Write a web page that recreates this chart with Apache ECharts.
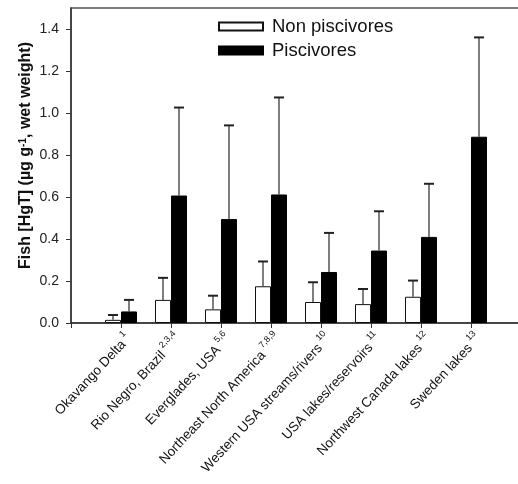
<!DOCTYPE html>
<html>
<head>
<meta charset="utf-8">
<script src="https://cdn.jsdelivr.net/npm/echarts@6/dist/echarts.min.js"></script>
<style>html,body{margin:0;padding:0;background:#fff;}#c{width:518px;height:484px;}</style>
</head>
<body>
<div id="c"></div>
<script>
// ---- data ----
var categories = ['Okavango Delta', 'Rio Negro, Brazil', 'Everglades, USA', 'Northeast North America',
  'Western USA streams/rivers', 'USA lakes/reservoirs', 'Northwest Canada lakes', 'Sweden lakes'];
var refNotes = ['1', '2,3,4', '5,6', '7,8,9', '10', '11', '12', '13'];
var nonPiscivores = [0.015, 0.11, 0.065, 0.175, 0.10, 0.09, 0.125, null];
var nonPiscivoresUpper = [0.038, 0.215, 0.13, 0.293, 0.194, 0.162, 0.202, null];
var piscivores = [0.055, 0.607, 0.495, 0.612, 0.243, 0.345, 0.41, 0.887];
var piscivoresUpper = [0.11, 1.026, 0.941, 1.074, 0.429, 0.532, 0.663, 1.36];
var yTicks = [0, 0.2, 0.4, 0.6, 0.8, 1.0, 1.2, 1.4];

// ---- build ----
var BAR_W = 16;
var axisCats = [''].concat(categories.map(function (c, i) { return '{a|' + c + '}{s|' + refNotes[i] + '}'; })).concat(['']);
function pad(arr) { return [null].concat(arr).concat([null]); }
function errData(vals, ups) {
  var out = [];
  vals.forEach(function (v, i) { if (v != null && ups[i] != null) out.push([i + 1, v, ups[i]]); });
  return out;
}
function errSeries(vals, ups, side) {
  return {
    type: 'custom',
    z: 5,
    silent: true,
    data: errData(vals, ups),
    encode: { x: 0, y: [1, 2] },
    renderItem: function (params, api) {
      var base = api.coord([api.value(0), api.value(1)]);
      var top = api.coord([api.value(0), api.value(2)]);
      var x = base[0] + side * BAR_W / 2;
      return {
        type: 'group',
        children: [
          { type: 'line', shape: { x1: x, y1: base[1], x2: x, y2: top[1] }, style: { stroke: '#3a3a3a', lineWidth: 1.3 } },
          { type: 'line', shape: { x1: x - 5, y1: top[1], x2: x + 5, y2: top[1] }, style: { stroke: '#222', lineWidth: 2 } }
        ]
      };
    }
  };
}

var chart = echarts.init(document.getElementById('c'), null, { renderer: 'canvas' });
chart.setOption({
  animation: false,
  textStyle: { fontFamily: 'Liberation Sans, Arial, sans-serif' },
  grid: { left: 71, top: 8, width: 450, bottom: 161, outerBoundsMode: 'none', containLabel: false,
    show: true, borderColor: '#555', borderWidth: 1.5, backgroundColor: 'transparent' },
  legend: {
    orient: 'vertical', left: 218, top: 17, padding: 0, itemWidth: 44, itemHeight: 8, itemGap: 5, icon: 'rect',
    textStyle: { fontSize: 18.5, color: '#111', padding: [0, 0, 0, 4], lineHeight: 18 },
    data: ['Non piscivores', 'Piscivores']
  },
  xAxis: {
    type: 'category',
    data: axisCats,
    boundaryGap: false,
    axisLine: { lineStyle: { color: '#333', width: 1.5 } },
    axisTick: { show: true, interval: 0, length: 5, lineStyle: { color: '#333' } },
    axisLabel: {
      interval: 0, rotate: 47, margin: 6, color: '#111', align: 'right', verticalAlign: 'top',
      rich: {
        a: { fontSize: 13.5, color: '#111', lineHeight: 18, verticalAlign: 'bottom' },
        s: { fontSize: 9, color: '#111', lineHeight: 9, padding: [0, 0, 0, 3], verticalAlign: 'top' }
      }
    },
    splitLine: { show: false }
  },
  yAxis: {
    type: 'value', min: 0, max: 1.5, interval: 0.2,
    name: '{m|Fish [HgT] (µg g}{sup|-1}{m|, wet weight)}',
    nameLocation: 'middle', nameGap: 37, nameRotate: 90, nameMoveOverlap: false,
    nameTextStyle: { padding: [0, 0, 0, 20],
      rich: {
        m: { fontSize: 16, fontWeight: 'bold', color: '#111', lineHeight: 16, padding: [5, 0, 0, 0], verticalAlign: 'bottom' },
        sup: { fontSize: 10, fontWeight: 'bold', color: '#111', lineHeight: 10, verticalAlign: 'top' }
      } },
    axisLine: { show: true, lineStyle: { color: '#333', width: 1.5 } },
    axisTick: { show: true, length: 5, lineStyle: { color: '#333' } },
    axisLabel: {
      fontSize: 14, color: '#222', margin: 12, showMaxLabel: false,
      formatter: function (v) { return yTicks.some(function (t) { return Math.abs(t - v) < 1e-9; }) ? v.toFixed(1) : ''; }
    },
    splitLine: { show: false }
  },
  series: [
    { name: 'Non piscivores', type: 'bar', data: pad(nonPiscivores), barWidth: BAR_W, barGap: '0%',
      itemStyle: { color: '#fff', borderColor: '#111', borderWidth: 1 } },
    { name: 'Piscivores', type: 'bar', data: pad(piscivores), barWidth: BAR_W, barGap: '0%',
      itemStyle: { color: '#000', borderColor: '#000', borderWidth: 1 } },
    errSeries(nonPiscivores, nonPiscivoresUpper, -1),
    errSeries(piscivores, piscivoresUpper, 1)
  ]
});
</script>
</body>
</html>
